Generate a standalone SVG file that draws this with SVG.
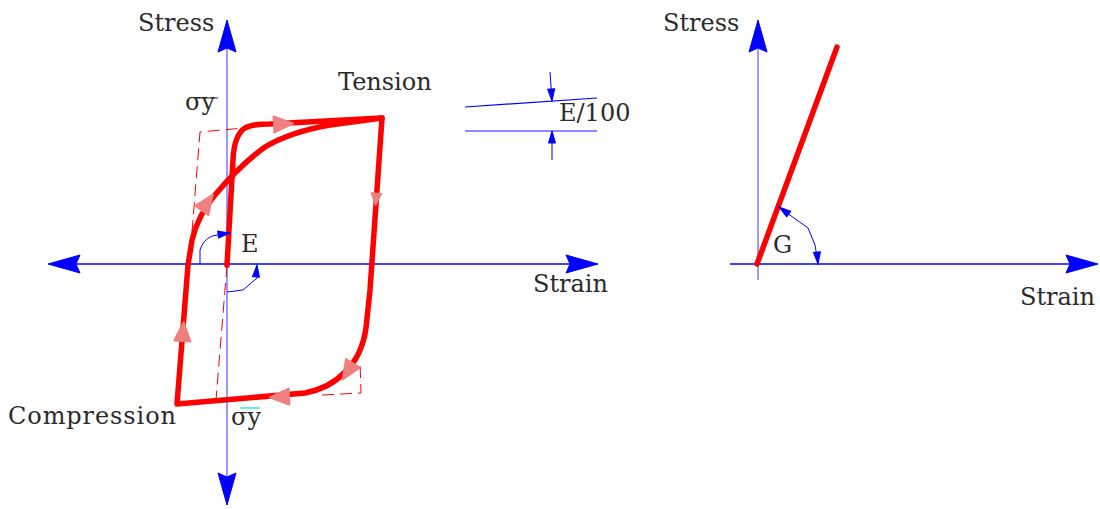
<svg xmlns="http://www.w3.org/2000/svg" width="1100" height="509" viewBox="0 0 1100 509">
<style>
.t{font-family:"DejaVu Serif","Liberation Serif",serif;font-size:24px;fill:#2b2b2b}
.ax{stroke:#0000ff;stroke-width:1.4;fill:none}
.axl{stroke:#8080ff;stroke-width:1.6;fill:none}
.bl{stroke:#0000ff;stroke-width:1;fill:none}
.red{stroke:#ff0000;stroke-width:5.5;fill:none;stroke-linejoin:round;stroke-linecap:round}
.dash{stroke:#ff0000;stroke-width:1;fill:none;stroke-dasharray:12 6}
.ah{fill:#0000ff;stroke:#0000ff;stroke-width:1}
.pk{fill:#f08080;stroke:#f08080;stroke-width:2;stroke-linejoin:round}
</style>
<defs>
<path id="ah" d="M0 0 L-32 -9 L-28 0 L-32 9 Z"/>
<path id="sa" d="M0 0 L-12 -3.5 L-12 3.5 Z"/>
<path id="tri" d="M10 0 L-9 -8 L-9 8 Z"/>
</defs>

<g id="left-axes">
<line class="ax" x1="50" y1="264" x2="596" y2="264"/>
<line class="axl" x1="227" y1="22" x2="227" y2="503"/>
<use href="#ah" class="ah" transform="translate(598,264)"/>
<use href="#ah" class="ah" transform="translate(48,264) rotate(180)"/>
<use href="#ah" class="ah" transform="translate(227,20) rotate(-90)"/>
<use href="#ah" class="ah" transform="translate(227,505) rotate(90)"/>
</g>

<g id="left-reference">
<path class="dash" d="M192 232 L200 132 L244 128"/>
<path class="dash" d="M227 265 L216 400"/>
<path class="dash" d="M322 395 L361 393 L360 362"/>
</g>

<g id="hysteresis">
<path class="red" d="M227 265 L233 160 Q234 135 245 128 Q252 124 270 124 L382 118"/>
<path class="red" d="M382 118 L370 290 L366 328 Q362 356 345 372 Q330 388 305 393 L177 404 L188 265 L192 240 Q198 215 215 195 Q240 165 265 147 Q290 132 330 125 L382 118"/>
<use href="#tri" class="pk" transform="translate(283,124) rotate(-3)"/>
<use href="#tri" class="pk" transform="translate(376,199) rotate(94) scale(0.65)"/>
<use href="#tri" class="pk" transform="translate(348,371) rotate(122)"/>
<use href="#tri" class="pk" transform="translate(280,397) rotate(177)"/>
<use href="#tri" class="pk" transform="translate(183,332) rotate(-86)"/>
<use href="#tri" class="pk" transform="translate(207,203) rotate(-55)"/>
</g>

<g id="E-angle">
<path class="bl" d="M200 264 L200 250 Q203 240 212 236 L229 233"/>
<use href="#sa" class="ah" transform="translate(230,233) rotate(-8)"/>
<path class="bl" d="M227 292 L243 290 L257 278 L257 266"/>
<use href="#sa" class="ah" transform="translate(257,265) rotate(-85)"/>
</g>

<g id="E100-dim">
<line x1="465" y1="107" x2="597" y2="98" stroke="#0000ff" stroke-width="1.2"/>
<line x1="465" y1="131" x2="597" y2="131" stroke="#6060ff" stroke-width="1.6"/>
<line class="bl" x1="550" y1="72" x2="552" y2="100"/>
<use href="#sa" class="ah" transform="translate(552,101) rotate(86)"/>
<line class="bl" x1="552" y1="160" x2="552" y2="132"/>
<use href="#sa" class="ah" transform="translate(552,131) rotate(-90)"/>
</g>

<g id="left-labels">
<text class="t" x="138" y="31">Stress</text>
<text class="t" x="338" y="90">Tension</text>
<text class="t" x="185" y="110">σy</text>
<line x1="196" y1="98" x2="218" y2="98" stroke="#2b2b2b" stroke-width="1"/>
<text class="t" x="241" y="252">E</text>
<text class="t" x="559" y="121">E/100</text>
<text class="t" x="533" y="292">Strain</text>
<text class="t" x="8" y="424" textLength="168">Compression</text>
<text class="t" x="231" y="425">σy</text>
<line x1="240" y1="408" x2="260" y2="408" stroke="#00e0e0" stroke-width="1.2"/>
</g>

<g id="right-axes">
<line class="ax" x1="730" y1="264" x2="1096" y2="264"/>
<line class="axl" x1="758" y1="22" x2="758" y2="280"/>
<use href="#ah" class="ah" transform="translate(1098,264)"/>
<use href="#ah" class="ah" transform="translate(758,20) rotate(-90)"/>
</g>

<g id="shear">
<line class="red" x1="757" y1="264" x2="837" y2="47"/>
</g>

<g id="G-angle">
<path class="bl" d="M780 208 L808 228 L815 245 L818 263"/>
<use href="#sa" class="ah" transform="translate(779,207) rotate(-144)"/>
<use href="#sa" class="ah" transform="translate(818,264) rotate(85)"/>
</g>

<g id="right-labels">
<text class="t" x="663" y="31">Stress</text>
<text class="t" x="773" y="253">G</text>
<text class="t" x="1020" y="305">Strain</text>
</g>
</svg>
